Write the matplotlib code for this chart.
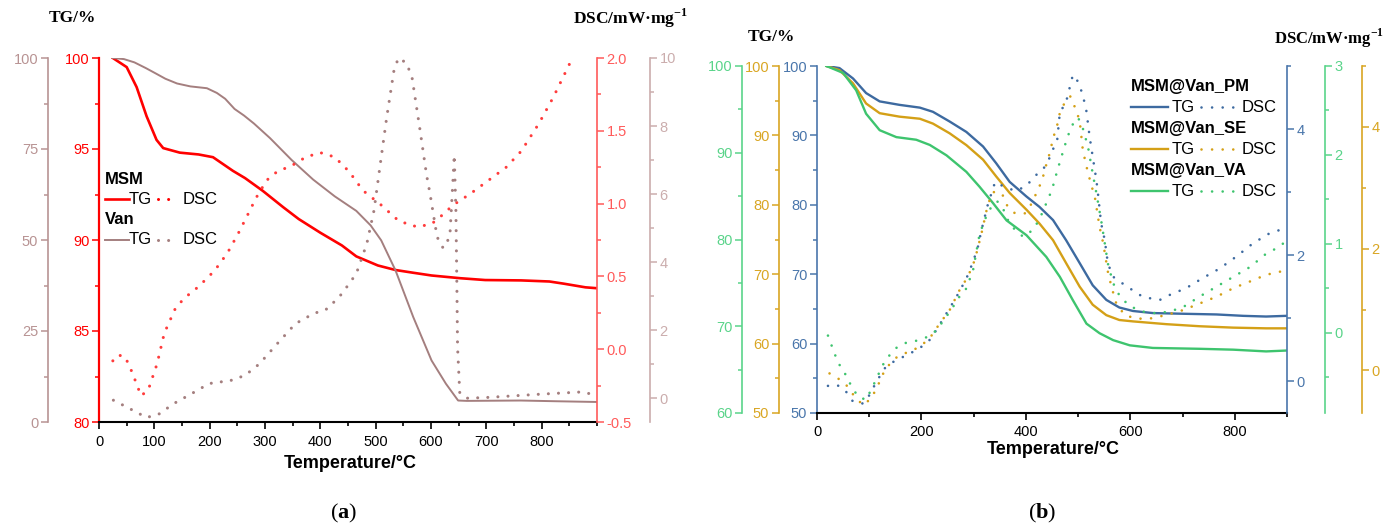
"""
TG / DSC curves for MSM, Van and the three MSM@Van preparations.
"""

import matplotlib
matplotlib.use("Agg")
import matplotlib.pyplot as plt
from matplotlib.lines import Line2D
from matplotlib.ticker import MultipleLocator, FormatStrFormatter

plt.rcParams["font.family"] = ["Liberation Sans", "DejaVu Sans"]
plt.rcParams["axes.unicode_minus"] = False
plt.rcParams["mathtext.fontset"] = "custom"
plt.rcParams["mathtext.rm"] = "Liberation Serif"
plt.rcParams["mathtext.bf"] = "Liberation Serif:bold"

# --- (a) MSM and Van ---
msm_tg_t = [25, 50, 68, 86, 104, 116, 146, 180, 206, 242, 264, 296, 333, 361, 400, 439, 465, 504, 536, 568, 601, 653, 698, 763, 814, 840, 879, 900]
msm_tg = [100, 99.5, 98.4, 96.8, 95.5, 95.05, 94.8, 94.7, 94.55, 93.8, 93.4, 92.7, 91.8, 91.15, 90.4, 89.7, 89.1, 88.6, 88.35, 88.2, 88.05, 87.9, 87.8, 87.78, 87.72, 87.6, 87.4, 87.35]

van_tg_t = [25, 45, 64, 85, 102, 120, 141, 165, 195, 213, 228, 245, 262, 280, 309, 348, 387, 426, 465, 491, 510, 536, 568, 601, 627, 649, 665, 762, 827, 900]
van_tg = [100, 99.7, 98.8, 97.2, 95.8, 94.3, 93.0, 92.2, 91.7, 90.4, 88.8, 86.0, 84.2, 82.0, 78.0, 72.0, 66.6, 62.0, 58.0, 54.0, 49.9, 41.6, 28.8, 16.9, 10.5, 5.9, 5.8, 5.9, 5.7, 5.5]

msm_dsc_t = [25, 34, 47, 60, 76, 89, 105, 118, 138, 154, 180, 209, 232, 251, 267, 284, 303, 322, 348, 374, 400, 426, 452, 477, 510, 542, 575, 601, 620, 640, 672, 704, 736, 763, 795, 821, 853, 875]
msm_dsc = [-0.08, -0.04, -0.05, -0.16, -0.32, -0.28, -0.1, 0.11, 0.28, 0.35, 0.43, 0.54, 0.66, 0.79, 0.91, 1.04, 1.16, 1.22, 1.26, 1.32, 1.35, 1.32, 1.22, 1.09, 0.99, 0.88, 0.84, 0.86, 0.92, 0.99, 1.07, 1.16, 1.25, 1.36, 1.55, 1.73, 1.98, 2.15]

van_dsc_t = [26, 50, 86, 109, 135, 167, 199, 238, 264, 290, 322, 355, 387, 413, 439, 465, 484, 497, 510, 520, 533, 541, 556, 566, 580, 592, 598, 611, 622, 634, 640, 642, 645, 647, 648, 652, 665, 700, 750, 800, 869, 900]
van_dsc = [-0.06, -0.26, -0.57, -0.46, -0.16, 0.13, 0.43, 0.52, 0.67, 1.01, 1.6, 2.19, 2.48, 2.63, 3.07, 3.66, 4.54, 5.52, 7.08, 8.26, 9.63, 10.0, 9.85, 9.4, 7.9, 6.56, 6.03, 4.74, 4.41, 4.74, 6.5, 7.15, 5.5, 3.0, 1.5, 0.15, 0.0, 0.02, 0.07, 0.12, 0.18, 0.1]

# --- (b) MSM@Van preparations ---
b_tg_t = {
    "PM": [18, 43, 69, 94, 120, 158, 197, 222, 254, 286, 318, 343, 369, 401, 426, 452, 477, 503, 528, 554, 579, 605, 643, 701, 765, 816, 860, 899],
    "SE": [18, 43, 69, 94, 120, 158, 197, 222, 254, 286, 318, 343, 369, 401, 426, 452, 477, 503, 528, 554, 579, 605, 669, 733, 797, 860, 899],
    "VA": [18, 50, 75, 94, 120, 152, 190, 216, 248, 286, 311, 337, 363, 401, 439, 465, 490, 516, 541, 567, 599, 643, 733, 797, 860, 899],
}
b_tg = {
    "PM": [100, 99.7, 98.2, 96.1, 94.9, 94.4, 94.0, 93.4, 92.0, 90.5, 88.4, 86.0, 83.3, 81.2, 79.7, 77.8, 74.9, 71.6, 68.4, 66.3, 65.2, 64.7, 64.4, 64.3, 64.2, 64.0, 63.9, 64.0],
    "SE": [100, 99.4, 97.5, 94.6, 93.2, 92.7, 92.4, 91.7, 90.3, 88.6, 86.5, 84.1, 81.7, 79.3, 77.3, 74.9, 71.6, 68.2, 65.6, 64.1, 63.4, 63.2, 62.8, 62.5, 62.3, 62.2, 62.2],
    "VA": [100, 99.2, 97.2, 94.5, 92.6, 91.8, 91.5, 90.9, 89.7, 87.8, 86.1, 84.2, 82.2, 80.5, 78.0, 75.7, 73.0, 70.3, 69.2, 68.4, 67.8, 67.5, 67.4, 67.3, 67.1, 67.2],
}

b_dsc_t = {
    "PM": [21, 37, 53, 69, 88, 101, 114, 130, 146, 165, 184, 200, 216, 229, 248, 267, 286, 299, 308, 315, 327, 341, 360, 380, 402, 414, 431, 442, 452, 460, 465, 477, 490, 500, 509, 516, 522, 528, 535, 538, 544, 551, 557, 567, 589, 624, 656, 675, 707, 739, 771, 803, 835, 867, 886, 899],
    "SE": [24, 40, 56, 72, 88, 104, 117, 130, 146, 158, 178, 197, 216, 235, 254, 273, 289, 302, 315, 327, 337, 354, 364, 379, 398, 411, 421, 431, 437, 446, 452, 460, 465, 475, 485, 495, 503, 509, 516, 525, 532, 541, 548, 557, 564, 573, 589, 611, 637, 669, 701, 733, 765, 797, 829, 860, 886, 899],
    "VA": [21, 31, 40, 53, 66, 79, 94, 107, 126, 139, 155, 171, 197, 213, 229, 241, 257, 273, 286, 299, 311, 321, 334, 345, 356, 367, 379, 395, 414, 427, 440, 450, 459, 465, 479, 488, 500, 509, 519, 528, 535, 544, 551, 557, 567, 580, 599, 624, 650, 675, 701, 733, 765, 797, 829, 860, 886, 899],
}
b_dsc = {
    "PM": [-0.07, -0.05, -0.13, -0.32, -0.35, -0.21, 0.0, 0.21, 0.31, 0.39, 0.47, 0.55, 0.66, 0.82, 1.08, 1.34, 1.63, 1.9, 2.13, 2.4, 2.8, 3.16, 3.08, 3.02, 3.1, 3.24, 3.34, 3.48, 3.68, 3.83, 4.26, 4.43, 4.86, 4.75, 4.54, 4.28, 3.88, 3.56, 3.19, 2.98, 2.51, 2.24, 1.87, 1.66, 1.53, 1.34, 1.29, 1.37, 1.48, 1.64, 1.79, 1.98, 2.19, 2.35, 2.4, 2.37],
    "SE": [-0.05, -0.13, -0.24, -0.43, -0.57, -0.46, -0.24, 0.01, 0.17, 0.25, 0.31, 0.39, 0.53, 0.77, 0.99, 1.32, 1.54, 1.81, 2.25, 2.72, 2.93, 2.91, 2.71, 2.58, 2.58, 2.74, 2.93, 3.12, 3.32, 3.58, 3.81, 4.03, 4.23, 4.41, 4.5, 4.3, 4.1, 3.62, 3.35, 3.05, 2.85, 2.36, 2.09, 1.62, 1.37, 1.1, 0.91, 0.85, 0.85, 0.91, 0.99, 1.1, 1.21, 1.35, 1.46, 1.57, 1.62, 1.65],
    "VA": [-0.03, -0.19, -0.33, -0.45, -0.6, -0.72, -0.75, -0.6, -0.36, -0.25, -0.15, -0.11, -0.08, -0.04, 0.03, 0.13, 0.26, 0.41, 0.5, 0.71, 1.1, 1.27, 1.42, 1.48, 1.4, 1.25, 1.16, 1.08, 1.16, 1.29, 1.47, 1.61, 1.8, 1.92, 2.19, 2.33, 2.42, 2.3, 2.09, 1.79, 1.57, 1.27, 1.01, 0.78, 0.56, 0.41, 0.3, 0.24, 0.22, 0.24, 0.29, 0.41, 0.52, 0.63, 0.74, 0.89, 0.97, 1.04],
}

b_names = ["PM", "SE", "VA"]

# --- Colours ---
RED = "#ff0000"
RED_DSC = "#ff3c3c"
RED_AX = "#ff5a5a"
BROWN = "#a47f7f"
BROWN_AX = "#b89393"
BROWN_AX_R = "#cbadad"
b_colors = {"PM": "#3d6aa0", "SE": "#d4a017", "VA": "#3ec46e"}
b_axis_colors = {"PM": "#4a76ab", "SE": "#d9a623", "VA": "#5ad48a"}

W, H = 1386, 527
TICK_SIZE = 10.5
DOTS_A = dict(linestyle=(0, (0.01, 3.3)), dash_capstyle="round", lw=2.2)
DOTS_B = dict(linestyle=(0, (0.01, 4.0)), dash_capstyle="round", lw=1.9)


def fpos(x, y):
    """Pixel position -> figure fraction."""
    return x / W, 1 - y / H


def style_y(ax, side, color, ylim, major, minor, fmt=None, lw=1.2):
    ax.set_ylim(*ylim)
    ax.yaxis.set_major_locator(MultipleLocator(major))
    ax.yaxis.set_minor_locator(MultipleLocator(minor))
    if fmt:
        ax.yaxis.set_major_formatter(FormatStrFormatter(fmt))
    ax.yaxis.set_ticks_position(side)
    ax.spines[side].set_color(color)
    ax.spines[side].set_linewidth(lw)
    ax.tick_params(axis="y", which="both", colors=color, direction="out", width=1.1, labelsize=TICK_SIZE, pad=2)
    ax.tick_params(axis="y", which="major", length=5)
    ax.tick_params(axis="y", which="minor", length=3)


def extra_axis(host, side, offset, color, ylim, major, minor, fmt=None):
    ax = host.twinx()
    for s in ax.spines.values():
        s.set_visible(False)
    ax.spines[side].set_visible(True)
    ax.spines[side].set_position(("axes", offset))
    style_y(ax, side, color, ylim, major, minor, fmt)
    return ax


def style_host(ax, labelled, major, minor):
    ax.set_xlim(0, 900)
    ax.set_xticks(labelled)
    ax.xaxis.set_minor_locator(MultipleLocator(minor))
    ax.spines["top"].set_visible(False)
    ax.spines["right"].set_visible(False)
    ax.spines["bottom"].set_linewidth(1.5)
    ax.tick_params(axis="x", which="both", direction="out", width=1.2, labelsize=TICK_SIZE, pad=4)
    ax.tick_params(axis="x", which="major", length=5)
    ax.tick_params(axis="x", which="minor", length=3)
    ax.patch.set_alpha(0)


fig = plt.figure(figsize=(W / 100, H / 100), dpi=100)

# --- Panel (a) ---
ax_a = fig.add_axes([99 / W, 1 - 422 / H, 498 / W, 364 / H])
style_host(ax_a, range(0, 801, 100), 100, 50)
style_y(ax_a, "left", RED, (80, 100), 5, 2.5, lw=1.6)
ax_a.plot(msm_tg_t, msm_tg, color=RED, lw=1.9, zorder=3)

ax_a_vtg = extra_axis(ax_a, "left", -0.1024, BROWN_AX, (0, 100), 25, 12.5)
ax_a_vtg.plot(van_tg_t, van_tg, color=BROWN, lw=1.4)

ax_a_mdsc = extra_axis(ax_a, "right", 1.0, RED_AX, (-0.5, 2.0), 0.5, 0.25, "%.1f")
ax_a_mdsc.plot(msm_dsc_t, msm_dsc, color=RED_DSC, **DOTS_A)

ax_a_vdsc = extra_axis(ax_a, "right", 1.1064, BROWN_AX_R, (-0.7, 10), 2, 1)
ax_a_vdsc.plot(van_dsc_t, van_dsc, color=BROWN, **DOTS_A)

# --- Panel (b) ---
ax_b = fig.add_axes([817 / W, 1 - 413 / H, 470 / W, 347 / H])
style_host(ax_b, range(0, 801, 200), 200, 100)
style_y(ax_b, "left", b_axis_colors["PM"], (50, 100), 10, 5)

tg_axes = {
    "PM": ax_b,
    "SE": extra_axis(ax_b, "left", -0.0809, b_axis_colors["SE"], (50, 100), 10, 5),
    "VA": extra_axis(ax_b, "left", -0.1596, b_axis_colors["VA"], (60, 100), 10, 5),
}
dsc_axes = {
    "PM": extra_axis(ax_b, "right", 1.0, b_axis_colors["PM"], (-0.5, 5), 2, 1),
    "VA": extra_axis(ax_b, "right", 1.0809, b_axis_colors["VA"], (-0.9, 3), 1, 0.5),
    "SE": extra_axis(ax_b, "right", 1.1596, b_axis_colors["SE"], (-0.7, 5), 2, 1),
}
for name in b_names:
    tg_axes[name].plot(b_tg_t[name], b_tg[name], color=b_colors[name], lw=1.7)
    dsc_axes[name].plot(b_dsc_t[name], b_dsc[name], color=b_colors[name], **DOTS_B)

# --- Axis titles ---
serif_bold = dict(family=["Liberation Serif", "DejaVu Serif"], weight="bold", size=12.5, va="center")
dsc_title = r"DSC/mW·mg$^{\mathbf{-1}}$"
fig.text(*fpos(72, 18), "TG/%", ha="center", **serif_bold)
fig.text(*fpos(573, 18), dsc_title, ha="left", **serif_bold)
fig.text(*fpos(771, 37), "TG/%", ha="center", **serif_bold)
fig.text(*fpos(1384, 38), dsc_title, ha="right", **{**serif_bold, "size": 12})

fig.text(*fpos(350, 464), "Temperature/°C", ha="center", va="center", weight="bold", size=13)
fig.text(*fpos(1053, 449), "Temperature/°C", ha="center", va="center", weight="bold", size=13)

panel_lbl = dict(family=["Liberation Serif", "DejaVu Serif"], size=16, ha="center", va="center")
fig.text(*fpos(344, 513), r"($\mathbf{a}$)", **panel_lbl)
fig.text(*fpos(1042, 513), r"($\mathbf{b}$)", **panel_lbl)


# --- Legends: group header, then "TG" solid and "DSC" dotted keys ---
def legend_group(header, color, x, y_head, y_key, key_end, tg_x, dot_x0, dot_x1, dsc_x, dots, lw_tg):
    fig.text(*fpos(x, y_head), header, ha="left", va="center", weight="bold", size=12)
    x0, yk = fpos(x, y_key)
    x1, _ = fpos(key_end, y_key)
    fig.add_artist(Line2D([x0, x1], [yk, yk], color=color, lw=lw_tg))
    fig.text(*fpos(tg_x, y_key), "TG", ha="left", va="center", size=12)
    d0, _ = fpos(dot_x0, y_key)
    d1, _ = fpos(dot_x1, y_key)
    fig.add_artist(Line2D([d0, d1], [yk, yk], color=color, **dots))
    fig.text(*fpos(dsc_x, y_key), "DSC", ha="left", va="center", size=12)


legend_group("MSM", RED, 105, 180, 199, 129, 129, 158, 176, 183, DOTS_A, 1.9)
legend_group("Van", BROWN, 105, 220, 240, 129, 129, 158, 176, 183, DOTS_A, 1.4)

for i, name in enumerate(b_names):
    y0 = 87 + i * 42
    legend_group("MSM@Van_" + name, b_colors[name], 1131, y0, y0 + 20, 1168, 1172,
                 1201, 1236, 1242, DOTS_B, 1.7)

fig.savefig("out.png", dpi=100)
